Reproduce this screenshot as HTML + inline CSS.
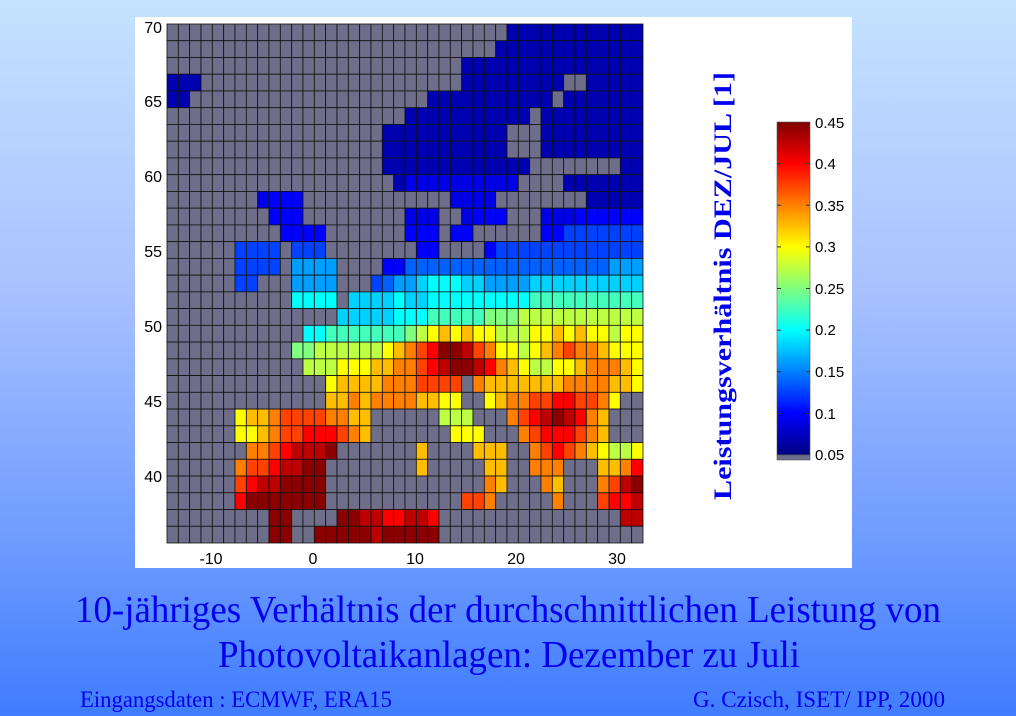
<!DOCTYPE html>
<html><head><meta charset="utf-8"><style>
html,body{margin:0;padding:0;width:1016px;height:716px;overflow:hidden}
body{background:linear-gradient(to bottom,#c4e2ff 0%,#a9c2ff 40%,#6f9cff 75%,#3f7cff 100%)}
svg{position:absolute;left:0;top:0}
</style></head><body>
<svg id="s" width="1016" height="716" xmlns="http://www.w3.org/2000/svg">
<defs>
<linearGradient id="jet" x1="0" y1="1" x2="0" y2="0">
<stop offset="0" stop-color="#000080"/>
<stop offset="0.125" stop-color="#0000ff"/>
<stop offset="0.375" stop-color="#00ffff"/>
<stop offset="0.625" stop-color="#ffff00"/>
<stop offset="0.875" stop-color="#ff0000"/>
<stop offset="1" stop-color="#800000"/>
</linearGradient>
</defs>
<rect x="135" y="17" width="717" height="551" fill="#fff"/>
<g id="grid"></g>
<g font-family="Liberation Sans, sans-serif" font-size="16" fill="#000">
<text x="162" y="33" text-anchor="end">70</text>
<text x="162" y="107" text-anchor="end">65</text>
<text x="162" y="182" text-anchor="end">60</text>
<text x="162" y="257" text-anchor="end">55</text>
<text x="162" y="332" text-anchor="end">50</text>
<text x="162" y="407" text-anchor="end">45</text>
<text x="162" y="482" text-anchor="end">40</text>
<text x="211" y="564" text-anchor="middle">-10</text>
<text x="313" y="564" text-anchor="middle">0</text>
<text x="415" y="564" text-anchor="middle">10</text>
<text x="516" y="564" text-anchor="middle">20</text>
<text x="617" y="564" text-anchor="middle">30</text>
</g>
<rect x="777" y="122" width="33" height="333" fill="url(#jet)" stroke="#555" stroke-width="0.6"/>
<rect x="777" y="455" width="33" height="5" fill="#6e6e8a" stroke="#555" stroke-width="0.6"/>
<g stroke="#333" stroke-width="1">
<line x1="777" y1="163.6" x2="781" y2="163.6"/><line x1="806" y1="163.6" x2="810" y2="163.6"/>
<line x1="777" y1="205.2" x2="781" y2="205.2"/><line x1="806" y1="205.2" x2="810" y2="205.2"/>
<line x1="777" y1="246.9" x2="781" y2="246.9"/><line x1="806" y1="246.9" x2="810" y2="246.9"/>
<line x1="777" y1="288.5" x2="781" y2="288.5"/><line x1="806" y1="288.5" x2="810" y2="288.5"/>
<line x1="777" y1="330.1" x2="781" y2="330.1"/><line x1="806" y1="330.1" x2="810" y2="330.1"/>
<line x1="777" y1="371.7" x2="781" y2="371.7"/><line x1="806" y1="371.7" x2="810" y2="371.7"/>
<line x1="777" y1="413.4" x2="781" y2="413.4"/><line x1="806" y1="413.4" x2="810" y2="413.4"/>
</g>
<g font-family="Liberation Sans, sans-serif" font-size="15" fill="#000">
<text x="815" y="128">0.45</text>
<text x="815" y="169">0.4</text>
<text x="815" y="211">0.35</text>
<text x="815" y="252">0.3</text>
<text x="815" y="294">0.25</text>
<text x="815" y="335">0.2</text>
<text x="815" y="377">0.15</text>
<text x="815" y="419">0.1</text>
<text x="815" y="460">0.05</text>
</g>
<text transform="translate(731,500) rotate(-90)" font-family="Liberation Serif, serif" font-weight="bold" font-size="25" fill="#0000ee" textLength="428" lengthAdjust="spacingAndGlyphs">Leistungsverhältnis DEZ/JUL  [1]</text>
<g font-family="Liberation Serif, serif" fill="#0000ee">
<text x="75" y="622" font-size="38" textLength="866" lengthAdjust="spacingAndGlyphs">10-jähriges Verhältnis der durchschnittlichen Leistung von</text>
<text x="218" y="667" font-size="38" textLength="582" lengthAdjust="spacingAndGlyphs">Photovoltaikanlagen: Dezember zu Juli</text>
<text x="80" y="707" font-size="23" textLength="312" lengthAdjust="spacingAndGlyphs">Eingangsdaten : ECMWF, ERA15</text>
<text x="693" y="707" font-size="23" textLength="252" lengthAdjust="spacingAndGlyphs">G. Czisch, ISET/ IPP, 2000</text>
</g>
</svg>
<script>
var rows=[
"..............................aaaaaaaaaaaa",
".............................aaaaaaaaaaaaa",
"..........................aaaaaaaaaaaaaaaa",
"aaa.......................aaaaaaaaa..aaaaa",
"aa.....................aaaaaaaaaaa.aaaaaaa",
".....................aaaaaaaaaaa.aaaaaaaaa",
"...................aaaaaaaaaaa...aaaaaaaaa",
"...................aaaaaaaaaaa...aaaaaaaaa",
"...................aaaaaaaaaaaaa........aa",
"....................abbbbbbbbbb....aaaaaaa",
"........bccc.............bbbb........aaaaa",
".........ccc.........bbb..bccc...bbbcccccc",
"..........cccc.......ccc.cc......ccddddddd",
"......dddd.ddd........cc....cddddddddddddd",
"......dddd.ffff....cceeeeeeeeeeeeeeeeeefff",
"......dd...ffff...deffghhhggffffgggggggggg",
"...........hhhh.gggghgghhhhhhhhhiiiiiiiiiii",
"...............ggggghhhiiiiijjjkkkkkkkkkkk",
"............hhiiiiiiijklmlmllkkkllmlmllkll",
"...........jjkkkkkklmnoprrqonllklmnonnmlll",
"............kkklllmmnnopqrrqpnmlkkllmnnnml",
"..............lmmmmnnnoooo.nmmmmmmmnnnnmml",
"..............mmnmnnnnmmll..lmnnooppoonl..",
"......lmmnoooonnmm......kkk...nopqrqpnm...",
"......llmnooppponm.......lll...noppponm...",
".......nnopqqqr.......m....mmm..noponmlkkl",
"......noopqqrr........m.....mm..nnn...mmnp",
"......opqqrrrr..............nm...nm...noqr",
"......prrrrrrr............oon.....n...oppq",
".........rr....rrqqppqqp................qq",
".........rr..rrrrrqrrrrr.................."
];
rows=rows.map(function(r){if(r.length>42)r=r.slice(0,42);while(r.length<42)r+=".";return r;});
var T={a:.05,b:.1,c:.125,d:.19,e:.22,f:.28,g:.33,h:.375,i:.44,j:.5,k:.56,l:.625,m:.69,n:.75,o:.81,p:.875,q:.94,r:.99};
function cl(v){return Math.max(0,Math.min(1,v));}
function jet(t){var r=cl(1.5-Math.abs(4*t-3)),g=cl(1.5-Math.abs(4*t-2)),b=cl(1.5-Math.abs(4*t-1));
return "rgb("+Math.round(r*255)+","+Math.round(g*255)+","+Math.round(b*255)+")";}
var h="",cw=476/42,ch=519/31;
for(var r=0;r<31;r++)for(var c=0;c<42;c++){var k=rows[r][c];var col=(k in T)?jet(T[k]):"#6e6e8a";
h+='<rect x="'+(167+c*cw).toFixed(2)+'" y="'+(24+r*ch).toFixed(2)+'" width="'+cw.toFixed(2)+'" height="'+ch.toFixed(2)+'" fill="'+col+'" stroke="#111" stroke-width="0.8"/>';}
document.getElementById("grid").innerHTML=h;
</script>
</body></html>
